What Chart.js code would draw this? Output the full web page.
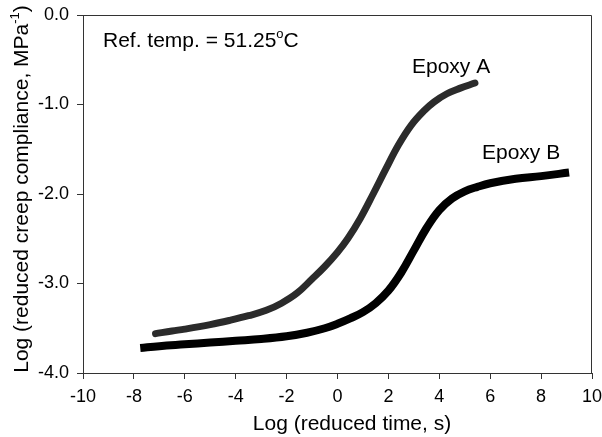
<!DOCTYPE html>
<html>
<head>
<meta charset="utf-8">
<script src="https://cdn.jsdelivr.net/npm/chart.js@4.4.1/dist/chart.umd.min.js"></script>
<style>
  html, body { margin: 0; padding: 0; background: #fff; }
  #wrap { width: 602px; height: 437px; }
</style>
</head>
<body>
<div id="wrap"><canvas id="creepChart" width="602" height="437"></canvas></div>
<script>
// Creep compliance master curves

const epoxyA_x = [-7.15, -6.5, -6.0, -5.0, -4.2, -3.5, -2.8, -2.2, -1.6, -1.0, -0.5, 0.0, 0.4, 0.9, 1.4, 1.9, 2.4, 2.9, 3.4, 3.8, 4.3, 4.8, 5.4];
const epoxyA_y = [-3.56, -3.53, -3.51, -3.46, -3.41, -3.36, -3.30, -3.22, -3.11, -2.95, -2.81, -2.65, -2.50, -2.27, -2.00, -1.72, -1.45, -1.23, -1.07, -0.97, -0.88, -0.82, -0.76];

const epoxyB_x = [-7.75, -7.0, -6.0, -5.0, -4.0, -3.0, -2.0, -1.2, -0.5, 0.0, 0.5, 1.0, 1.5, 2.0, 2.5, 3.0, 3.5, 4.0, 4.5, 5.0, 5.5, 6.0, 7.0, 8.0, 9.1];
const epoxyB_y = [-3.72, -3.70, -3.68, -3.66, -3.64, -3.62, -3.59, -3.55, -3.50, -3.45, -3.39, -3.32, -3.22, -3.08, -2.88, -2.63, -2.38, -2.18, -2.05, -1.97, -1.92, -1.88, -1.83, -1.80, -1.76];

const xTicks = [-10, -8, -6, -4, -2, 0, 2, 4, 6, 8, 10];
const yTicks = [-4, -3, -2, -1, 0];

const FONT = '"Liberation Sans", Arial, sans-serif';
const axisColor = '#333';
const TXT = 21;

function toPoints(xs, ys) {
    return xs.map((x, i) => ({ x: x, y: ys[i] }));
}

// draws text with optional superscript pieces, left-aligned at (x, y) baseline
function drawRich(ctx, parts, x, y, size) {
    let cx = x;
    parts.forEach(p => {
        if (p.sup) {
            ctx.font = `${Math.round(size * 0.62)}px ${FONT}`;
            ctx.fillText(p.t, cx, y - size * 0.42);
        } else {
            ctx.font = `${size}px ${FONT}`;
            ctx.fillText(p.t, cx, y);
        }
        cx += ctx.measureText(p.t).width;
    });
}

function richWidth(ctx, parts, size) {
    let w = 0;
    parts.forEach(p => {
        ctx.font = p.sup ? `${Math.round(size * 0.62)}px ${FONT}` : `${size}px ${FONT}`;
        w += ctx.measureText(p.t).width;
    });
    return w;
}

const annotations = {
    id: 'annotations',
    afterDraw(chart) {
        const ctx = chart.ctx;
        const a = chart.chartArea;
        ctx.save();
        // frame (top and right edges)
        ctx.strokeStyle = axisColor;
        ctx.lineWidth = 1;
        ctx.beginPath();
        ctx.moveTo(a.left, a.top + 0.5);
        ctx.lineTo(a.right - 0.5, a.top + 0.5);
        ctx.lineTo(a.right - 0.5, a.bottom);
        ctx.stroke();

        ctx.fillStyle = '#000';
        ctx.textBaseline = 'alphabetic';
        ctx.textAlign = 'left';
        drawRich(ctx, [{ t: 'Ref. temp. = 51.25' }, { t: 'o', sup: true }, { t: 'C' }], 103, 47, TXT);
        drawRich(ctx, [{ t: 'Epoxy A' }], 412, 73, TXT);
        drawRich(ctx, [{ t: 'Epoxy B' }], 482, 159, TXT);

        // x axis title
        const xt = [{ t: 'Log (reduced time, s)' }];
        const xw = richWidth(ctx, xt, TXT);
        drawRich(ctx, xt, 352 - xw / 2, 430, TXT);

        // y axis title, rotated
        const yt = [{ t: 'Log (reduced creep compliance, MPa' }, { t: '-1', sup: true }, { t: ')' }];
        const yw = richWidth(ctx, yt, TXT);
        ctx.translate(28, 189);
        ctx.rotate(-Math.PI / 2);
        drawRich(ctx, yt, -yw / 2, 0, TXT);
        ctx.restore();
    }
};

const ctx = document.getElementById('creepChart').getContext('2d');
new Chart(ctx, {
    type: 'scatter',
    data: {
        datasets: [
            {
                label: 'Epoxy A',
                data: toPoints(epoxyA_x, epoxyA_y),
                showLine: true,
                borderColor: '#2b2b2b',
                borderWidth: 7,
                borderCapStyle: 'round',
                pointRadius: 0,
                tension: 0.4
            },
            {
                label: 'Epoxy B',
                data: toPoints(epoxyB_x, epoxyB_y),
                showLine: true,
                borderColor: '#000',
                borderWidth: 8,
                pointRadius: 0,
                tension: 0.4
            }
        ]
    },
    options: {
        responsive: false,
        animation: false,
        devicePixelRatio: 1,
        layout: { padding: { top: 15, right: 10, left: 0, bottom: 0 } },
        plugins: {
            legend: { display: false },
            tooltip: { enabled: false }
        },
        scales: {
            x: {
                type: 'linear',
                min: -10,
                max: 10,
                afterFit: s => { s.height = 64; s.paddingLeft = 0; s.paddingRight = 0; },
                afterBuildTicks: s => { s.ticks = xTicks.map(v => ({ value: v })); },
                ticks: {
                    color: '#000',
                    padding: 7,
                    autoSkip: false,
                    font: { family: FONT, size: 18 },
                    maxRotation: 0,
                    callback: v => String(v)
                },
                grid: { drawOnChartArea: false, tickLength: 6, color: axisColor },
                border: { color: axisColor, width: 1 }
            },
            y: {
                type: 'linear',
                min: -4,
                max: 0,
                afterFit: s => { s.width = 83; s.paddingTop = 0; s.paddingBottom = 0; },
                afterBuildTicks: s => { s.ticks = yTicks.map(v => ({ value: v })); },
                ticks: {
                    color: '#000',
                    padding: 8,
                    autoSkip: false,
                    font: { family: FONT, size: 18 },
                    callback: v => v.toFixed(1)
                },
                grid: { drawOnChartArea: false, tickLength: 6, color: axisColor },
                border: { color: axisColor, width: 1 }
            }
        }
    },
    plugins: [annotations]
});
</script>
</body>
</html>
